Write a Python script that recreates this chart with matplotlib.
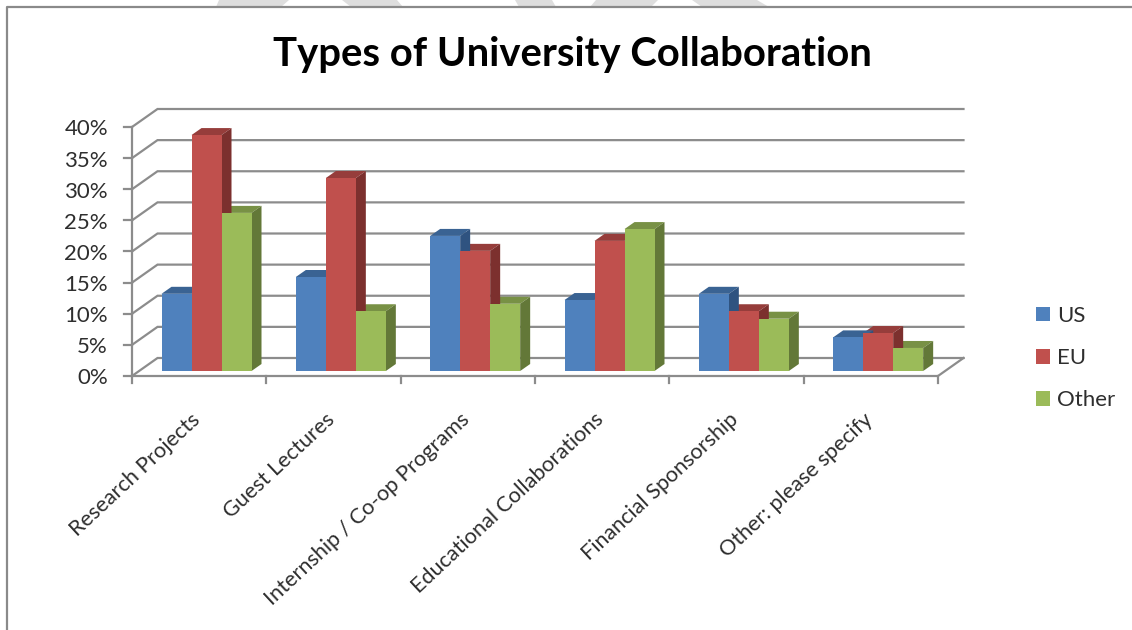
import matplotlib
matplotlib.use("Agg")
from matplotlib import pyplot as plt
from matplotlib.patches import Polygon, Patch
from matplotlib.lines import Line2D

categories = ["Research Projects", "Guest Lectures", "Internship / Co-op Programs",
              "Educational Collaborations", "Financial Sponsorship", "Other: please specify"]
series_names = ["US", "EU", "Other"]
us = [12.4, 15.1, 21.7, 11.4, 12.4, 5.4]
eu = [37.9, 31.0, 19.3, 20.9, 9.6, 6.1]
other = [25.4, 9.6, 10.8, 22.8, 8.4, 3.7]
yticks = [0, 5, 10, 15, 20, 25, 30, 35, 40]

# face, top, side colours
colors = {"US": ("#4F81BD", "#3A6393", "#2F5380"),
          "EU": ("#C0504D", "#963D3B", "#7C302E"),
          "Other": ("#9BBB59", "#789145", "#637838")}
GRID = "#8C8C8C"
TEXT = "#2E2E2E"
FONT = "Lato"

W, H = 1132, 630
fig = plt.figure(figsize=(W / 100, H / 100), dpi=100)
plt.rcParams["font.family"] = FONT

# axes box is the front of the chart floor, in pixels of the reference
left, right, bottom, top = 132, 938, 376, 127
ax = fig.add_axes([left / W, 1 - bottom / H, (right - left) / W, (bottom - top) / H])
ax.set_xlim(0, 6)
ax.set_ylim(0, 40)
ax.axis("off")

px_x = 6 / (right - left)
px_y = 40 / (bottom - top)
wall_dx, wall_dy = 25.5 * px_x, 18 * px_y   # depth of the whole floor
bar_dx, bar_dy = 10 * px_x, 7 * px_y        # depth of one bar
base = 5 * px_y                             # bars stand a bit behind the front edge
bar_w = 30 * px_x
first = 29.5 * px_x

# walls and floor
for v in yticks:
    ax.plot([0, wall_dx, 6 + wall_dx], [v, v + wall_dy, v + wall_dy],
            color=GRID, lw=1.6, clip_on=False, solid_joinstyle="miter")
    ax.plot([-8 * px_x, 0], [v, v], color=GRID, lw=1.6, clip_on=False)
    ax.text(-24 * px_x, v - 2.5 * px_y, f"{v}%", ha="right", va="center", fontsize=16, color=TEXT)
ax.plot([0, 0], [0, 40], color=GRID, lw=1.6, clip_on=False)
ax.plot([0, 6, 6 + wall_dx], [0, 0, wall_dy], color=GRID, lw=1.6, clip_on=False)
for i in range(7):
    ax.plot([i, i], [0, -7 * px_y], color=GRID, lw=1.6, clip_on=False)

# bars
for k, (name, vals) in enumerate(zip(series_names, [us, eu, other])):
    face, roof, side = colors[name]
    for i, v in enumerate(vals):
        x0 = i + first + k * bar_w
        x1 = x0 + bar_w
        y1 = base + v
        z = 3 + (5 - i) * 0.01 - k * 0.001
        ax.bar(x0, v, width=bar_w, bottom=base, align="edge", color=face, zorder=z + 0.002,
               clip_on=False, linewidth=0)
        ax.add_patch(Polygon([(x0, y1), (x1, y1), (x1 + bar_dx, y1 + bar_dy), (x0 + bar_dx, y1 + bar_dy)],
                             closed=True, fc=roof, ec="none", zorder=z, clip_on=False))
        ax.add_patch(Polygon([(x1, base), (x1, y1), (x1 + bar_dx, y1 + bar_dy), (x1 + bar_dx, base + bar_dy)],
                             closed=True, fc=side, ec="none", zorder=z, clip_on=False))

# category labels
for i, c in enumerate(categories):
    ax.annotate(c, xy=(i + 0.5, 0), xytext=(-6, -24), textcoords="offset points", rotation=43,
                ha="right", va="top", rotation_mode="anchor", fontsize=15.6, color=TEXT,
                annotation_clip=False)

handles = [Patch(fc=colors[n][0], ec="none", label=n) for n in series_names]
fig.legend(handles=handles, loc="center left", bbox_to_anchor=(1016 / W, 1 - 358 / H), frameon=False,
           fontsize=16, labelspacing=1.0, handlelength=0.64, handleheight=0.64, handletextpad=0.32,
           labelcolor=TEXT)

fig.text(572.5 / W, 1 - 54.5 / H, "Types of University Collaboration", ha="center", va="center",
         fontsize=28.8, fontweight="bold", color="black")

# grey marks cut off at the top of the page, then the page frame
page_marks = [[(219, 0), (289, 0), (281, 7), (216, 7)],
              [(342, 0), (397, 0), (403, 7), (351, 7)],
              [(515, 0), (552, 0), (556, 7), (519, 7)],
              [(596, 0), (658, 0), (651, 7), (590, 7)],
              [(692, 0), (757, 0), (769, 7), (702, 7)]]
for mark in page_marks:
    fig.add_artist(Polygon([(x / W, 1 - y / H) for x, y in mark], closed=True, fc="#DEDEDE", ec="none",
                           transform=fig.transFigure))
fig.add_artist(Line2D([7 / W, 7 / W, 1], [0, 1 - 7 / H, 1 - 7 / H], color="#8A8A8A", lw=1.6))

fig.savefig("out.png", dpi=100, facecolor="white")
